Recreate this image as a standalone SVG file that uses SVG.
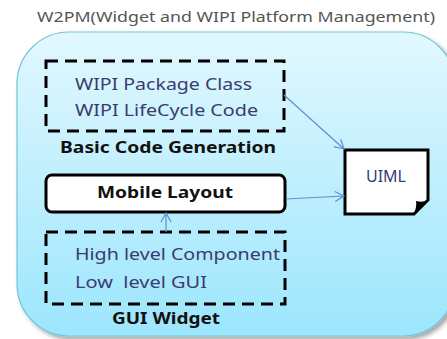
<svg xmlns="http://www.w3.org/2000/svg" width="447" height="339" viewBox="0 0 447 339">
  <style>
    .title { font-family: "Noto Sans", "Open Sans", sans-serif; font-size: 14px; fill: #555555; }
    .item { font-family: "Noto Sans", "Open Sans", sans-serif; font-size: 16px; fill: #3b3b6e; white-space: pre; }
    .caption { font-family: "Noto Sans", "Open Sans", sans-serif; font-size: 15.5px; font-weight: bold; fill: #111111; }
    .dashed { fill: none; stroke: #000000; stroke-width: 3; stroke-dasharray: 12 7; }
    .solid { stroke: #000000; stroke-width: 3; }
    .link { fill: none; stroke: #5b8fd0; stroke-width: 1.2; marker-end: url(#arrow); }
  </style>
  <defs>
    <linearGradient id="panelFill" x1="0" y1="0" x2="0" y2="1">
      <stop offset="0" stop-color="#e2f8fe"/>
      <stop offset="1" stop-color="#9ce6fd"/>
    </linearGradient>
    <filter id="shadow" x="-5%" y="-5%" width="115%" height="115%">
      <feDropShadow dx="3" dy="3" stdDeviation="2" flood-color="#000000" flood-opacity="0.35"/>
    </filter>
    <marker id="arrow" markerWidth="12" markerHeight="12" refX="10" refY="6" orient="auto" markerUnits="userSpaceOnUse">
      <path d="M1,1 L10,6 L1,11" fill="none" stroke="#5b8fd0" stroke-width="1.2"/>
    </marker>
  </defs>

  <text class="title" x="37" y="22" textLength="398" lengthAdjust="spacingAndGlyphs">W2PM(Widget and WIPI Platform Management)</text>

  <!-- platform panel -->
  <g id="platform">
    <rect x="17" y="32" width="438" height="304" rx="52" ry="52" fill="url(#panelFill)" stroke="#76c3d8" stroke-width="1.2" filter="url(#shadow)"/>
  </g>

  <g id="basic-code-generation">
    <rect class="dashed" x="46" y="61" width="238" height="70"/>
    <text class="item" x="75" y="90" textLength="177" lengthAdjust="spacingAndGlyphs">WIPI Package Class</text>
    <text class="item" x="75" y="116" textLength="183" lengthAdjust="spacingAndGlyphs">WIPI LifeCycle Code</text>
    <text class="caption" x="60" y="153" textLength="216" lengthAdjust="spacingAndGlyphs">Basic Code Generation</text>
  </g>

  <g id="mobile-layout">
    <rect class="solid" x="46" y="175" width="239" height="37" rx="6" ry="6" fill="#ffffff"/>
    <text class="caption" x="97" y="198" textLength="136" lengthAdjust="spacingAndGlyphs">Mobile Layout</text>
  </g>

  <g id="gui-widget">
    <rect class="dashed" x="46" y="232" width="239" height="72"/>
    <text class="item" x="75" y="260" textLength="205" lengthAdjust="spacingAndGlyphs">High level Component</text>
    <text class="item" x="75" y="288" textLength="132" lengthAdjust="spacingAndGlyphs" xml:space="preserve">Low  level GUI</text>
    <text class="caption" x="112" y="324" textLength="108" lengthAdjust="spacingAndGlyphs">GUI Widget</text>
  </g>

  <g id="uiml">
    <path class="solid" d="M345,150 L428,150 L428,200 L414,214 L345,214 Z" fill="#ffffff"/>
    <!-- curled page corner -->
    <path d="M428,200 L414,214 Q417,206 416,201 Q422,203 428,200 Z" fill="#000000"/>
    <text class="item" x="386" y="182" text-anchor="middle" font-size="17" fill="#3b5bb0">UIML</text>
  </g>

  <g id="connectors">
    <line class="link" x1="284" y1="95" x2="344" y2="149"/>
    <line class="link" x1="286" y1="199" x2="344" y2="196"/>
    <line class="link" x1="166" y1="232" x2="166" y2="213"/>
  </g>
</svg>
